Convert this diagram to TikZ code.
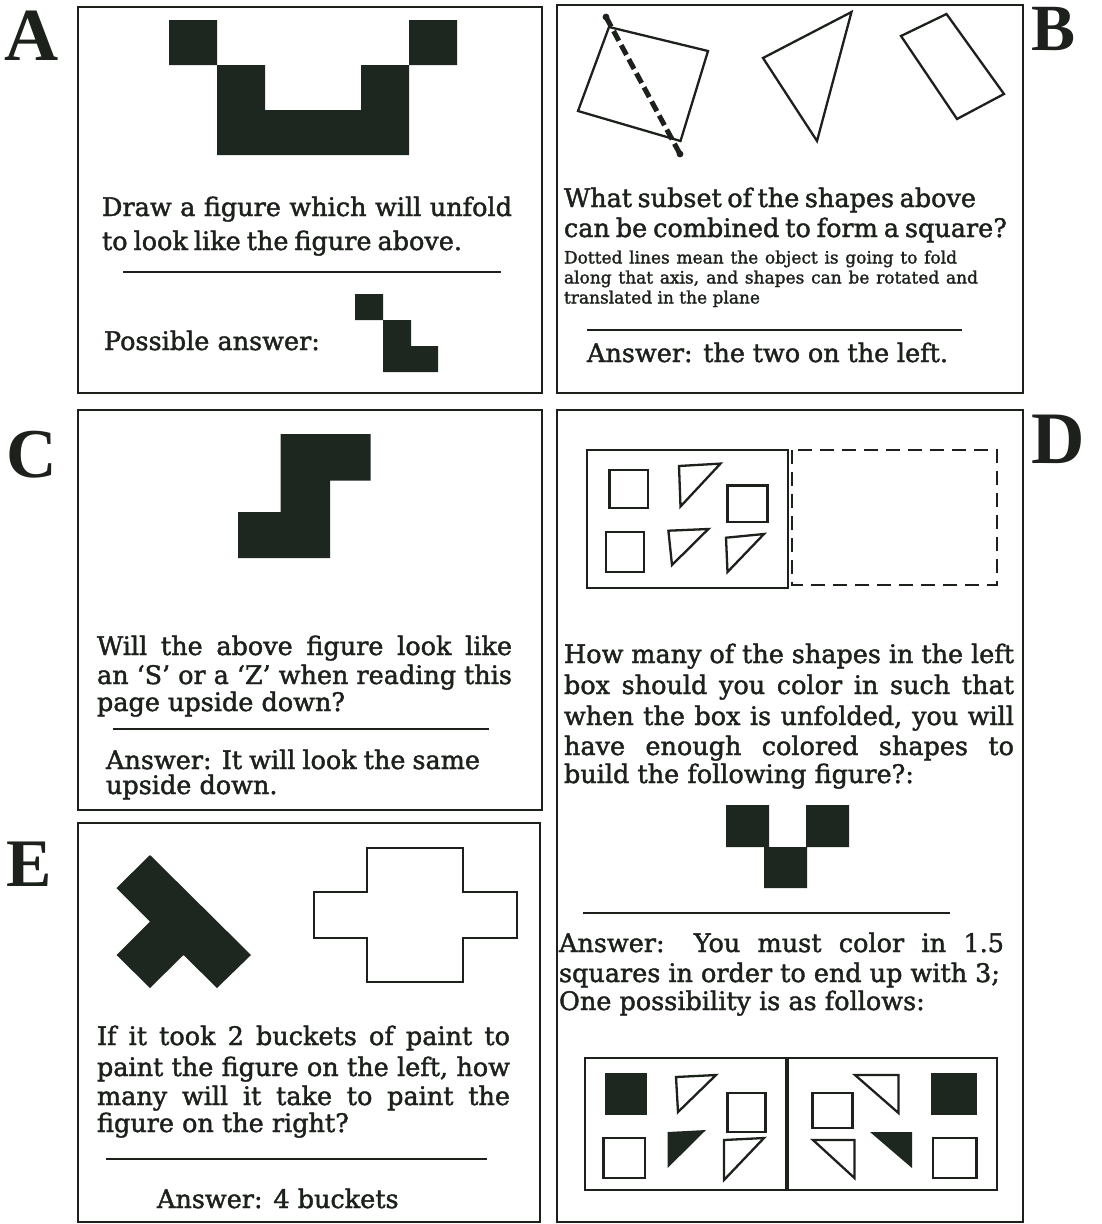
\documentclass[tikz,border=0pt]{standalone}
\usepackage{fontspec}
\setmainfont{DejaVu Serif}[FakeBold=1.6]
\newfontfamily\letterfont{Liberation Serif Bold}
\definecolor{ink}{HTML}{1C211C}
\definecolor{fillk}{HTML}{1E271F}
\newcommand{\jline}[2]{\makebox[#1pt][s]{#2}}
\begin{document}
\begin{tikzpicture}[x=1pt,y=-1pt,
  panel/.style={draw=ink, line width=2.8pt},
  rulel/.style={draw=ink, line width=2.6pt},
  outl/.style={draw=ink, line width=2.3pt, line join=miter},
  solid fill/.style={fill=fillk},
  txt/.style={anchor=base west, inner sep=0pt, outer sep=0pt, text=ink, font=\fontsize{25.5}{28}\selectfont},
  small/.style={anchor=base west, inner sep=0pt, outer sep=0pt, text=ink, font=\fontsize{17}{20}\selectfont},
  letter/.style={anchor=base west, inner sep=0pt, outer sep=0pt, text=ink}
]
\path[use as bounding box, fill=white] (0,0) rectangle (1102,1224);

% ---------- panel frames ----------
\draw[panel] (78,7) rectangle (542,393);
\draw[panel] (557,5) rectangle (1023,393);
\draw[panel] (78,410) rectangle (542,810);
\draw[panel] (557,410) rectangle (1023,1222);
\draw[panel] (78,823) rectangle (540,1222);

% ---------- letters ----------
\node[letter, font=\letterfont\fontsize{75}{80}\selectfont] (LA) at (5,60) {A};
\node[letter, text height=44pt, font=\letterfont\fontsize{66}{70}\selectfont] (LB) at (1031,50) {B};
\node[letter, font=\letterfont\fontsize{70}{74}\selectfont] (LC) at (6,477) {C};
\node[letter, font=\letterfont\fontsize{74}{78}\selectfont] (LD) at (1031,463) {D};
\node[letter, font=\letterfont\fontsize{68}{72}\selectfont] (LE) at (6,886) {E};

% ---------- panel A ----------
\fill[solid fill] (169,20) rectangle (217,65)
  (409,20) rectangle (457,65)
  (217,65) -- (265,65) -- (265,110) -- (361,110) -- (361,65) -- (409,65) -- (409,155) -- (217,155) -- cycle;
\node[txt] (A1) at (102,216) {\jline{410}{Draw a figure which will unfold}};
\node[txt] (A2) at (102,250) {\jline{360}{to look like the figure above.}};
\draw[rulel] (123,272) -- (501,272);
\node[txt] (A3) at (104,350) {Possible answer:};
\fill[solid fill] (355,294) rectangle (383,320)
  (383,320) -- (411,320) -- (411,346) -- (438,346) -- (438,372) -- (383,372) -- cycle;

% ---------- panel B ----------
\draw[outl] (609,27) -- (708,51) -- (680.5,141) -- (578,111) -- cycle;
\draw[ink, line width=5pt, dash pattern=on 11pt off 5pt] (606,17) -- (680,154);
\fill[ink] (606,17) circle (3.4) (680,154) circle (3.4);
\draw[outl] (763,58) -- (851.5,12) -- (817,141) -- cycle;
\draw[outl] (901,36) -- (946.5,14) -- (1004,94) -- (957,119) -- cycle;
\node[txt] (B1) at (564,207) {\jline{412}{What subset of the shapes above}};
\node[txt] (B2) at (564,237) {\jline{443}{can be combined to form a square?}};
\node[small] (B3) at (564,263.5) {\jline{393}{Dotted lines mean the object is going to fold}};
\node[small] (B4) at (564,283.5) {\jline{414}{along that axis, and shapes can be rotated and}};
\node[small] (B5) at (564,303.5) {translated in the plane};
\draw[rulel] (587,330) -- (962,330);
\node[txt] (B6) at (587,362) {\jline{361}{Answer: the two on the left.}};

% ---------- panel C ----------
\fill[solid fill] (280.5,434) -- (370.6,434) -- (370.6,480.7) -- (330,480.7) -- (330,558) -- (238,558) -- (238,512) -- (280.5,512) -- cycle;
\node[txt] (C1) at (97,655) {\jline{415}{Will the above figure look like}};
\node[txt] (C2) at (97,684) {\jline{415}{an `S' or a `Z' when reading this}};
\node[txt] (C3) at (97,711) {page upside down?};
\draw[rulel] (113,729) -- (489,729);
\node[txt] (C4) at (106,769) {\jline{374}{Answer: It will look the same}};
\node[txt] (C5) at (106,794) {upside down.};

% ---------- panel D ----------
\draw[panel, line width=2.6pt] (587,450) rectangle (788,588);
\draw[ink, line width=2.3pt, dash pattern=on 14pt off 8pt] (792,450) rectangle (997,585);
\draw[outl] (609.4,470.3) rectangle (647.7,508.3);
\draw[outl] (727.5,485.5) rectangle (767.5,522);
\draw[outl] (606,532) rectangle (644,572);
\draw[outl] (679,466) -- (720.5,463.6) -- (680.5,506.5) -- cycle;
\draw[outl] (668.4,530.7) -- (708.4,529) -- (672,565) -- cycle;
\draw[outl] (726,537.7) -- (764,534) -- (727.5,572) -- cycle;
\node[txt] (D1) at (564,663) {\jline{450}{How many of the shapes in the left}};
\node[txt] (D2) at (564,694) {\jline{450}{box should you color in such that}};
\node[txt] (D3) at (564,725) {\jline{450}{when the box is unfolded, you will}};
\node[txt] (D4) at (564,755) {\jline{450}{have enough colored shapes to}};
\node[txt] (D5) at (564,783) {build the following figure?:};
\fill[solid fill] (726,805) rectangle (769,847)
  (806,805) rectangle (849,847)
  (764,847) rectangle (807,888);
\draw[rulel] (583,913) -- (950,913);
\node[txt] (D6) at (559,952) {\jline{445}{Answer: You must color in 1.5}};
\node[txt] (D7) at (559,982) {\jline{441}{squares in order to end up with 3;}};
\node[txt] (D8) at (559,1010) {One possibility is as follows:};
\draw[panel, line width=2.6pt] (585,1058) rectangle (786.5,1190);
\draw[panel, line width=2.6pt] (788,1058) rectangle (997,1190);
% left half
\fill[solid fill] (605,1073) rectangle (647,1115);
\draw[outl] (676,1077) -- (716,1075) -- (678,1112) -- cycle;
\draw[outl] (727.5,1093) rectangle (765.6,1132);
\draw[outl] (603.4,1138) rectangle (645,1178);
\fill[solid fill] (667.6,1132) -- (706,1130) -- (667.6,1168) -- cycle;
\draw[outl] (724,1140) -- (764,1138) -- (724,1180) -- cycle;
% right half
\draw[outl] (855,1075) -- (898.5,1075) -- (898.5,1113) -- cycle;
\draw[outl] (812.5,1093) rectangle (852.5,1128);
\fill[solid fill] (931.4,1073) rectangle (976.6,1115);
\draw[outl] (813,1140) -- (854.5,1140) -- (854.5,1178) -- cycle;
\fill[solid fill] (870,1132) -- (912,1132) -- (912,1168) -- cycle;
\draw[outl] (933,1138) rectangle (976.6,1178);

% ---------- panel E ----------
\fill[solid fill] (150,855) -- (251,955) -- (217,988) -- (183.5,955) -- (150,988) -- (116.5,955) -- (150,921.5) -- (116.5,888) -- cycle;
\draw[outl] (367,848) -- (463,848) -- (463,892) -- (517,892) -- (517,938) -- (463,938) -- (463,982) -- (367,982) -- (367,938) -- (314,938) -- (314,892) -- (367,892) -- cycle;
\node[txt] (E1) at (97,1045) {\jline{413}{If it took 2 buckets of paint to}};
\node[txt] (E2) at (97,1076) {\jline{413}{paint the figure on the left, how}};
\node[txt] (E3) at (97,1105) {\jline{413}{many will it take to paint the}};
\node[txt] (E4) at (97,1132) {figure on the right?};
\draw[rulel] (106,1159) -- (487,1159);
\node[txt] (E5) at (157,1208) {Answer: 4 buckets};
\end{tikzpicture}
\end{document}
